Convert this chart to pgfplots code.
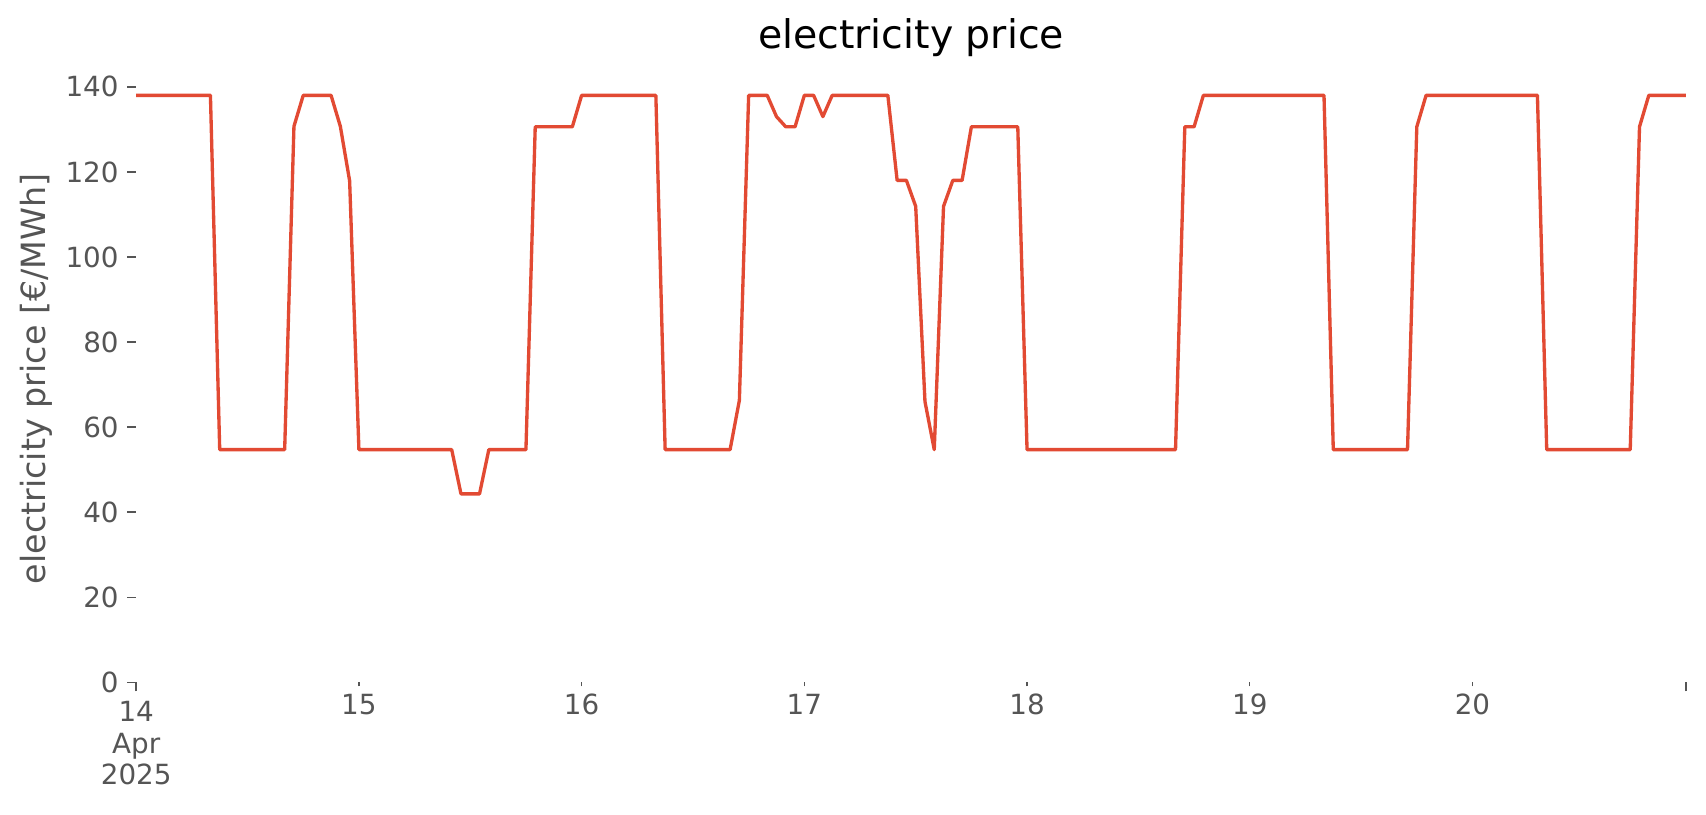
\documentclass[border=0pt]{standalone}
\usepackage{pgfplots}
\pgfplotsset{compat=1.18}
\usepackage{fontspec}
\setmainfont{DejaVu Sans}
\definecolor{ggred}{HTML}{E24A33}
\definecolor{gggray}{HTML}{555555}
\begin{document}
\begin{tikzpicture}
\path[use as bounding box] (0,0) rectangle (614.16pt,293.4pt);
\begin{axis}[
  at={(49.03pt,47.77pt)}, anchor=south west,
  scale only axis, width=557.9pt, height=218.5pt,
  xmin=0, xmax=167, ymin=0, ymax=142.7,
  axis line style={draw=none},
  tick align=outside,
  xtick pos=bottom, ytick pos=left,
  major tick length=3.3pt,
  every tick/.style={gggray, line width=0.5pt},
  xtick={0,167},
  xticklabels={{14\\Apr\\2025},{}},
  extra x ticks={24,48,72,96,120,144},
  extra x tick labels={15,16,17,18,19,20},
  extra x tick style={major tick length=1.5pt, xtick pos=bottom, xticklabel style={yshift=0.8pt}},
  ytick={0,20,...,140},
  yticklabel style={xshift=0.5pt},
  ticklabel style={font=\fontsize{10}{11.4}\selectfont, text=gggray},
  xticklabel style={align=center},
  /pgf/number format/assume math mode=true,
  title={electricity price},
  title style={font=\fontsize{14.2}{16}\selectfont, at={(axis description cs:0.5,1)}, anchor=base, yshift=3.8pt},
  ylabel={electricity price [€/MWh]},
  every axis y label/.style={at={(axis description cs:-0.0645,0.5)}, rotate=90, anchor=center, font=\fontsize{12}{14}\selectfont, text=gggray},
  clip=false,
]
\addplot[ggred, line width=1.2pt, line join=round] coordinates {
(0,138)(8,138)(9,54.7)(16,54.7)(17,130.7)(18,138)(21,138)(22,130.7)(23,117.9)
(24,54.7)(34,54.7)(35,44.3)(37,44.3)(38,54.7)(42,54.7)(43,130.6)(47,130.6)
(48,138)(56,138)(57,54.7)(64,54.7)(65,66.3)(66,138)(68,138)(69,133)(70,130.6)
(71,130.6)(72,138)(73,138)(74,133)(75,138)(81,138)(82,118)(83,118)(84,111.9)
(85,66)(86,54.7)(87,111.9)(88,118)(89,118)(90,130.6)(95,130.6)(96,54.7)
(112,54.7)(113,130.6)(114,130.6)(115,138)(128,138)(129,54.7)(137,54.7)
(138,130.6)(139,138)(151,138)(152,54.7)(161,54.7)(162,130.6)(163,138)(167,138)
};
\end{axis}
\end{tikzpicture}
\end{document}
